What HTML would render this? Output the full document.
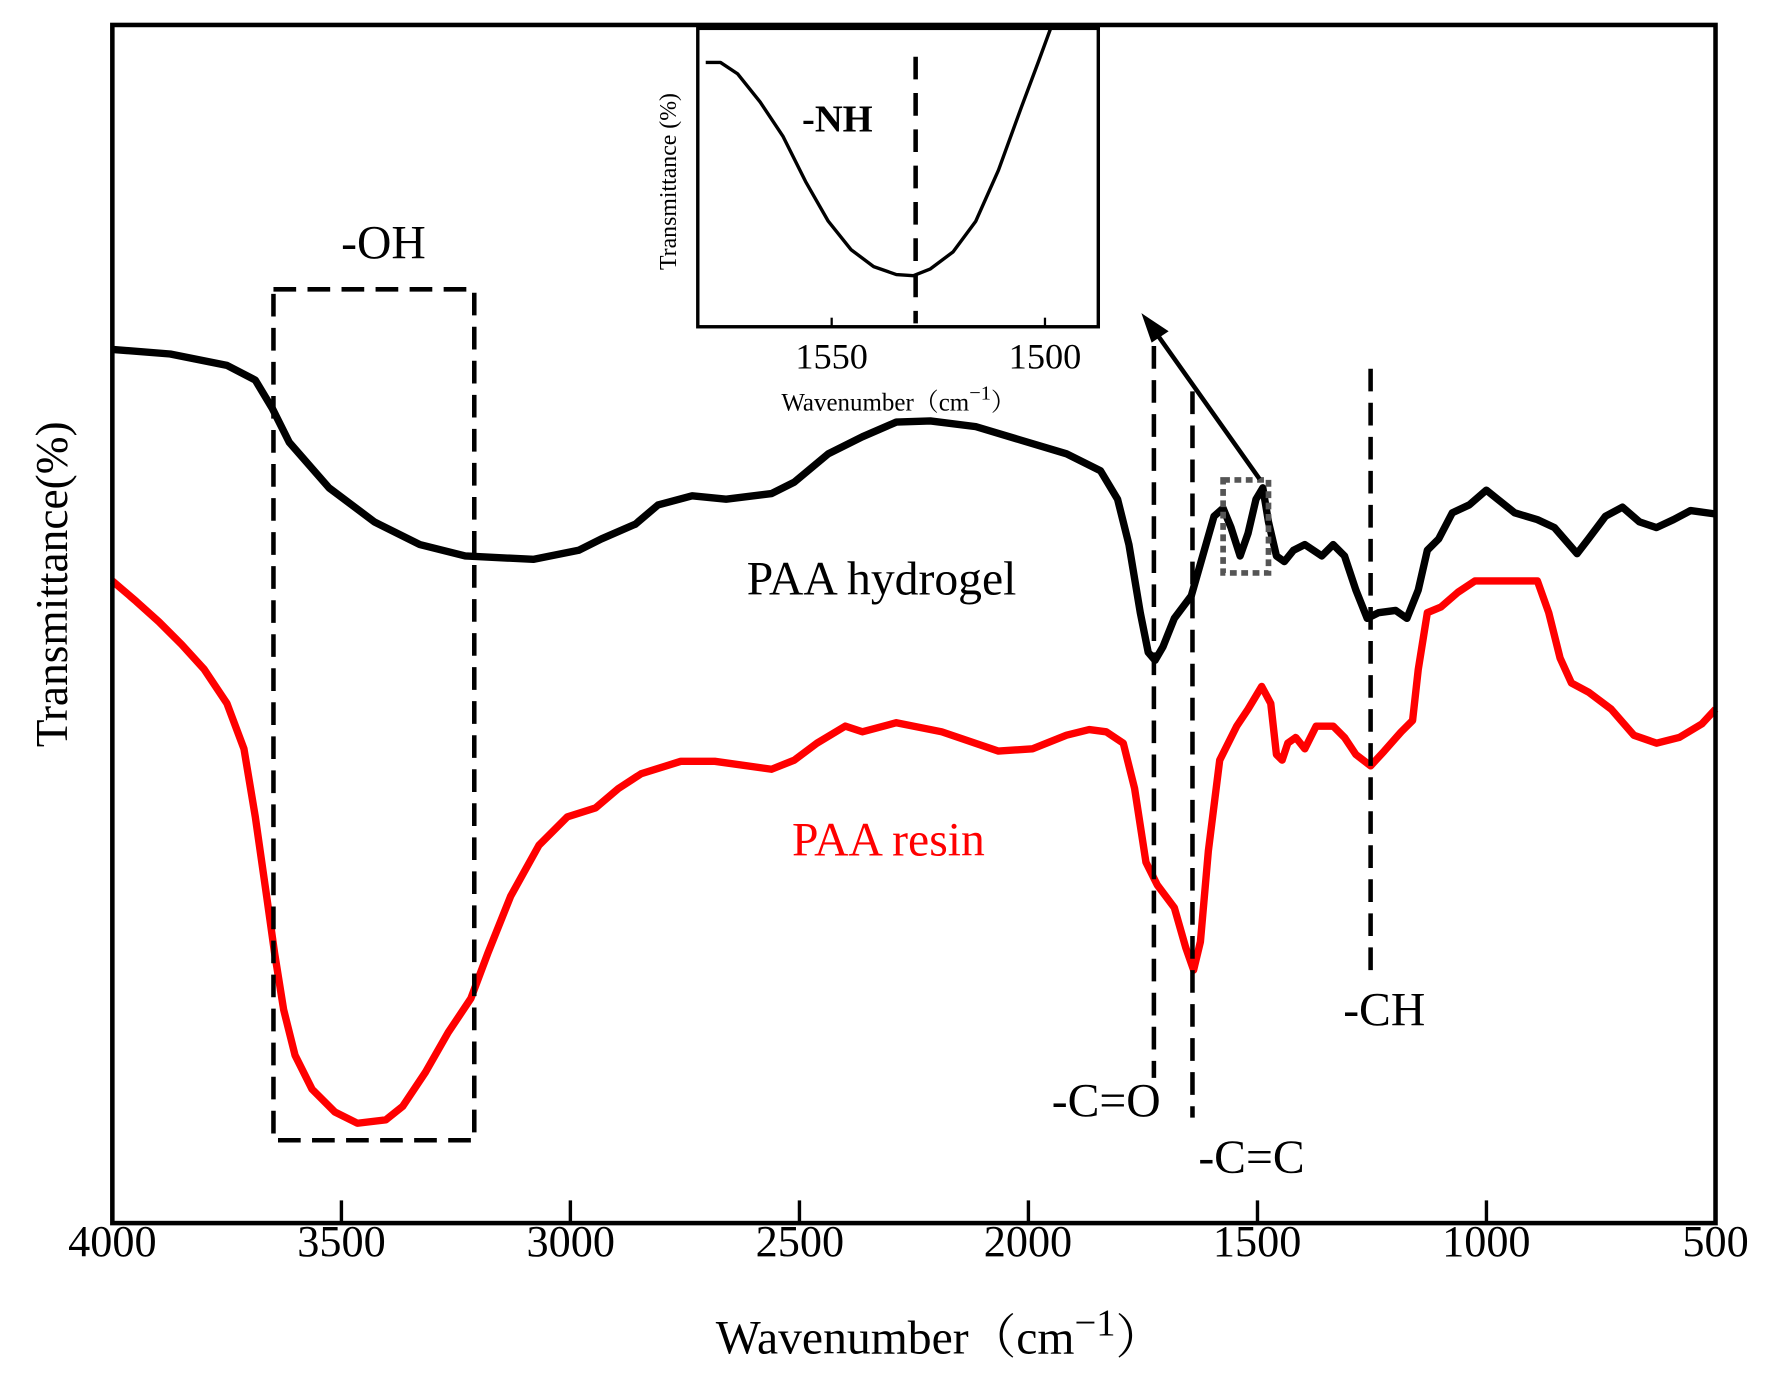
<!DOCTYPE html>
<html><head><meta charset="utf-8"><style>html,body{margin:0;padding:0;background:#fff}svg{display:block}</style></head>
<body>
<svg width="1770" height="1380" viewBox="0 0 1560 1216.3" xmlns="http://www.w3.org/2000/svg" font-family="'Liberation Serif','Noto Serif CJK SC',serif">
<rect width="1560" height="1217" fill="#fff"/>
<!-- curves -->
<polyline fill="none" stroke="#000" stroke-width="6.5" stroke-linejoin="round" points="99,308 150,312 200,322 225,335 240,360 255,390 290,430 330,460 370,480 410,490 470,493 510,485 530,475 560,462 580,445 610,437 640,440 680,435 700,425 730,400 760,385 790,372 820,371 860,376 900,388 940,400 970,415 985,440 995,480 1005,540 1012,575 1018,582 1025,570 1035,545 1050,525 1060,490 1070,455 1078,448 1085,465 1093,490 1100,470 1107,440 1113,430 1118,460 1125,490 1132,495 1140,485 1150,480 1165,490 1175,480 1185,490 1195,520 1205,545 1215,540 1230,538 1240,545 1250,520 1258,485 1268,475 1280,452 1295,445 1310,432 1320,440 1335,452 1355,458 1370,465 1390,488 1400,475 1415,455 1430,447 1445,460 1460,465 1475,458 1490,450 1512,453"/>
<polyline fill="none" stroke="#f00" stroke-width="6.5" stroke-linejoin="round" points="99,512 120,530 140,548 160,568 180,590 200,620 215,660 225,720 235,790 242,840 250,890 260,930 275,960 295,980 315,990 340,987 355,975 375,945 395,910 415,880 430,840 450,790 475,745 500,720 525,712 545,695 565,682 600,671 630,671 680,678 700,670 720,655 745,640 760,645 790,637 830,645 880,662 910,660 940,648 960,643 975,645 990,655 1000,695 1010,760 1020,780 1035,800 1045,835 1052,855 1058,830 1065,750 1075,670 1090,640 1100,625 1112,605 1120,620 1125,665 1130,670 1135,655 1142,650 1150,660 1160,640 1175,640 1185,650 1195,665 1208,675 1220,662 1235,645 1245,635 1250,590 1258,540 1270,535 1285,522 1300,512 1355,512 1365,540 1375,580 1385,602 1400,610 1420,625 1440,648 1460,655 1480,650 1500,638 1512,625"/>
<!-- dashed annotations -->
<g fill="none" stroke="#000" stroke-width="4" stroke-dasharray="20,10">
<rect x="241" y="255" width="177" height="750"/>
<line x1="1017" y1="305" x2="1017" y2="950"/>
<line x1="1051" y1="345" x2="1051" y2="985"/>
<line x1="1208" y1="325" x2="1208" y2="855"/>
</g>
<rect x="1078" y="423" width="40" height="82" fill="none" stroke="#555" stroke-width="5" stroke-dasharray="6,4"/>
<line x1="1110" y1="422" x2="1020" y2="295" stroke="#000" stroke-width="4"/>
<polygon points="1006,276 1030,292 1015,302" fill="#000"/>
<!-- labels -->
<g font-size="42" text-anchor="middle">
<text x="338" y="228">-OH</text>
<text x="777" y="524">PAA hydrogel</text>
<text x="783" y="754" fill="#f00">PAA resin</text>
<text x="975" y="984">-C=O</text>
<text x="1103" y="1034">-C=C</text>
<text x="1220" y="904">-CH</text>
</g>
<!-- inset -->
<rect x="615" y="25" width="353" height="263" fill="#fff" stroke="#000" stroke-width="3"/>
<polyline fill="none" stroke="#000" stroke-width="3" stroke-linejoin="round" points="622,55 635,55 650,65 670,90 690,120 710,160 730,195 750,220 770,235 790,242 805,243 820,237 840,222 860,195 880,150 900,95 915,55 926,25"/>
<line x1="807" y1="50" x2="807" y2="285" stroke="#000" stroke-width="4" stroke-dasharray="20,12"/>
<line x1="733" y1="288" x2="733" y2="280" stroke="#000" stroke-width="2"/>
<line x1="921" y1="288" x2="921" y2="280" stroke="#000" stroke-width="2"/>
<text x="738" y="116" font-size="34" font-weight="bold" text-anchor="middle">-NH</text>
<text transform="translate(596,160) rotate(-90)" font-size="21" text-anchor="middle">Transmittance (%)</text>
<g font-size="32" text-anchor="middle"><text x="733" y="325">1550</text><text x="921" y="325">1500</text></g>
<text x="792" y="362" font-size="22" text-anchor="middle">Wavenumber（cm<tspan dy="-10" font-size="18">−1</tspan><tspan dy="10">）</tspan></text>
<!-- main axes -->
<rect x="99" y="22" width="1413" height="1056" fill="none" stroke="#000" stroke-width="4"/>
<g stroke="#000" stroke-width="3">
<line x1="300.9" y1="1078" x2="300.9" y2="1058"/><line x1="502.7" y1="1078" x2="502.7" y2="1058"/>
<line x1="704.6" y1="1078" x2="704.6" y2="1058"/><line x1="906.4" y1="1078" x2="906.4" y2="1058"/>
<line x1="1108.3" y1="1078" x2="1108.3" y2="1058"/><line x1="1310.1" y1="1078" x2="1310.1" y2="1058"/>
</g>
<g font-size="39" text-anchor="middle">
<text x="99" y="1107">4000</text><text x="301" y="1107">3500</text><text x="503" y="1107">3000</text>
<text x="705" y="1107">2500</text><text x="906" y="1107">2000</text><text x="1108" y="1107">1500</text>
<text x="1310" y="1107">1000</text><text x="1512" y="1107">500</text>
</g>
<text x="828" y="1193" font-size="42" text-anchor="middle">Wavenumber（cm<tspan dy="-16" font-size="34">−1</tspan><tspan dy="16">）</tspan></text>
<text transform="translate(59,515) rotate(-90)" font-size="40" text-anchor="middle">Transmittance(%)</text>
</svg>
</body></html>
